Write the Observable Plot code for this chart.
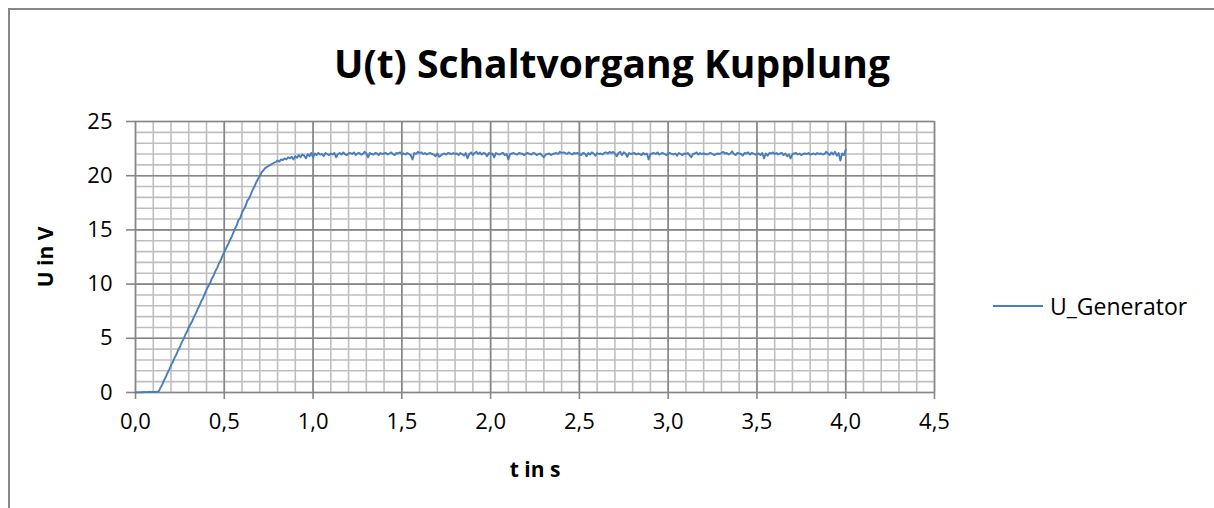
<!DOCTYPE html>
<html>
<head>
<meta charset="utf-8">
<script src="https://cdn.jsdelivr.net/npm/d3@7"></script>
<script src="https://cdn.jsdelivr.net/npm/@observablehq/plot@0.6"></script>
<style>
  body { margin: 0; background: #fff; }
  #wrap { position: relative; width: 1214px; height: 508px; overflow: hidden; font-family: "Open Sans", sans-serif; color: #000; }
  #frame { position: absolute; left: 8px; top: 8px; width: 1400px; height: 700px; border: 2px solid #878787; box-sizing: border-box; }
  #title { position: absolute; left: 0; width: 1224px; top: 38px; text-align: center; font-weight: bold; font-size: 39px; line-height: 50px; white-space: nowrap; }
  #legend { position: absolute; left: 993px; top: 290px; display: flex; align-items: center; font-size: 23px; white-space: nowrap; }
  #legend .sw { display: inline-block; width: 50px; height: 0; border-top: 2px solid #4a7ebb; margin-right: 7px; }
  #chart { position: absolute; left: 0; top: 0; }
</style>
</head>
<body>
<div id="wrap">
  <div id="frame"></div>
  <div id="chart"></div>
  <div id="title">U(t) Schaltvorgang Kupplung</div>
  <div id="legend"><span class="sw"></span><span>U_Generator</span></div>
</div>
<script>
// ---- data (sampled every 0.01 s) ----
const sampleStep = 0.01;
const seriesName = "U_Generator";
const titleText = "U(t) Schaltvorgang Kupplung";
const xLabel = "t in s";
const yLabel = "U in V";

// 0.00 s – 1.00 s
const voltageRise = [
  0.00, 0.02, 0.01, 0.03, 0.02, 0.04, 0.03, 0.05, 0.04, 0.05, 0.06, 0.05, 0.07, 0.08,
  0.40, 0.70, 1.10, 1.40, 1.80, 2.10, 2.50, 2.80, 3.20, 3.50,
  3.90, 4.20, 4.60, 4.90, 5.30, 5.60, 6.00, 6.30, 6.60, 7.00,
  7.30, 7.70, 8.00, 8.40, 8.70, 9.10, 9.50, 9.80, 10.10, 10.50,
  10.80, 11.20, 11.50, 11.90, 12.20, 12.60, 12.95, 13.30, 13.60, 14.00,
  14.30, 14.70, 15.10, 15.40, 15.90, 16.10, 16.60, 16.90, 17.20, 17.70,
  17.90, 18.30, 18.70, 19.00, 19.40, 19.70, 20.00, 20.30, 20.50, 20.70,
  20.80, 20.90, 21.00, 21.10, 21.20, 21.25, 21.40, 21.30, 21.50, 21.45,
  21.60, 21.50, 21.70, 21.60, 21.75, 21.50, 21.80, 21.65, 21.90, 21.70,
  21.95, 21.85, 21.60, 22.00, 21.80, 22.10, 21.70
];

// 1.01 s – 4.00 s
const voltagePlateau = [
  22.05, 21.90, 22.10, 21.95, 22.00, 21.80, 22.10, 22.00, 21.90, 22.05,
  21.95, 22.10, 21.70, 22.00, 22.10, 21.95, 22.15, 22.00, 21.90, 22.05,
  22.10, 22.00, 22.15, 21.90, 22.05, 22.10, 21.95, 22.00, 22.20, 22.05,
  21.70, 22.10, 22.00, 21.95, 22.10, 22.05, 21.90, 22.10, 22.00, 22.05,
  22.10, 21.95, 22.05, 22.15, 22.00, 21.90, 22.10, 22.05, 22.15, 22.00,
  22.05, 21.95, 22.10, 22.00, 21.90, 21.50, 22.10, 22.00, 22.20, 22.10,
  22.15, 22.00, 22.10, 21.95, 22.05, 22.10, 22.00, 21.95, 21.80, 22.05,
  21.75, 21.85, 22.00, 22.05, 21.95, 22.10, 22.05, 22.00, 22.10, 22.00,
  22.05, 21.90, 22.10, 22.00, 21.85, 22.10, 21.60, 22.00, 22.15, 21.90,
  22.10, 22.20, 22.00, 22.15, 21.95, 22.10, 22.05, 21.80, 22.10, 22.00,
  22.05, 21.70, 22.10, 22.00, 21.95, 22.05, 22.10, 21.90, 22.00, 21.50,
  22.00, 22.05, 22.10, 22.00, 21.95, 22.10, 22.05, 22.00, 21.90, 22.05,
  22.10, 22.00, 21.95, 22.10, 22.05, 21.90, 22.00, 22.05, 21.85, 21.70,
  21.95, 22.00, 22.05, 21.90, 22.00, 22.05, 22.10, 22.00, 22.20, 22.10,
  22.15, 22.10, 22.00, 22.15, 22.05, 21.95, 22.10, 22.05, 22.10, 22.00,
  21.90, 22.10, 22.05, 21.80, 22.10, 21.95, 22.15, 22.05, 21.85, 22.10,
  22.00, 22.05, 21.95, 22.10, 22.15, 22.05, 22.20, 22.10, 22.20, 22.05,
  21.80, 22.10, 22.20, 21.90, 22.15, 22.05, 21.75, 22.10, 22.00, 22.05,
  22.10, 21.95, 22.05, 22.00, 21.90, 22.10, 21.95, 22.05, 21.50, 22.00,
  22.05, 22.10, 22.00, 22.15, 21.95, 22.05, 22.10, 22.00, 21.90, 22.05,
  22.10, 22.00, 21.95, 22.05, 21.85, 22.10, 22.00, 21.90, 22.05, 22.00,
  22.10, 21.90, 21.70, 22.00, 22.05, 22.15, 21.95, 22.10, 22.00, 22.05,
  22.00, 21.95, 22.05, 22.10, 22.00, 21.90, 22.00, 22.05, 22.00, 22.10,
  22.20, 22.05, 22.10, 21.95, 22.05, 22.25, 22.00, 21.90, 22.10, 22.05,
  22.00, 21.85, 22.10, 22.05, 22.15, 21.95, 22.10, 22.05, 21.95, 22.00,
  22.05, 21.90, 22.10, 21.60, 22.05, 21.85, 22.10, 22.05, 22.15, 22.00,
  22.10, 21.95, 22.05, 22.10, 21.90, 22.05, 21.80, 21.95, 21.60, 22.00,
  22.05, 22.10, 21.95, 22.05, 21.90, 22.00, 22.05, 22.00, 22.10, 21.95,
  22.00, 22.05, 21.95, 22.10, 22.00, 22.05, 21.95, 22.00, 22.20, 22.05,
  21.90, 22.15, 21.95, 22.20, 21.85, 22.10, 21.40, 22.05, 21.90, 22.40
];

const xMajorTicks = [0, 0.5, 1, 1.5, 2, 2.5, 3, 3.5, 4, 4.5];
const yMajorTicks = [0, 5, 10, 15, 20, 25];
const xMinorStep = 0.1;
const yMinorStep = 1;

// ---- build table ----
const voltage = voltageRise.concat(voltagePlateau);
const data = voltage.map((u, i) => ({ t: +(i * sampleStep).toFixed(2), u }));
const xMinorTicks = d3.range(0, 4.5 + 1e-9, xMinorStep).map(v => +v.toFixed(2));
const yMinorTicks = d3.range(0, 25 + 1e-9, yMinorStep);
const fmtComma = d => d.toFixed(1).replace(".", ",");

const minorColor = "#bfbfbf";
const majorColor = "#878787";

const chart = Plot.plot({
  width: 1214,
  height: 508,
  marginLeft: 135,
  marginRight: 280,
  marginTop: 121,
  marginBottom: 116,
  style: { background: "transparent", fontFamily: "'Open Sans', sans-serif", fontSize: "22px", color: "#000" },
  x: { domain: [0, 4.5] },
  y: { domain: [0, 25] },
  marks: [
    Plot.gridX(xMinorTicks, { stroke: minorColor, strokeOpacity: 1, strokeWidth: 1.6 }),
    Plot.gridY(yMinorTicks, { stroke: minorColor, strokeOpacity: 1, strokeWidth: 1.6 }),
    Plot.gridX(xMajorTicks, { stroke: majorColor, strokeOpacity: 1, strokeWidth: 1.6 }),
    Plot.gridY(yMajorTicks, { stroke: majorColor, strokeOpacity: 1, strokeWidth: 1.6 }),
    Plot.axisX(xMajorTicks, { tickFormat: fmtComma, tickSize: 7, tickPadding: 14, stroke: majorColor, strokeWidth: 1.6, label: xLabel, labelAnchor: "center", labelOffset: 84, labelArrow: "none" }),
    Plot.axisY(yMajorTicks, { tickFormat: d => String(d), tickSize: 9, tickPadding: 14, stroke: majorColor, strokeWidth: 1.6, label: yLabel, labelAnchor: "center", labelOffset: 97, labelArrow: "none" }),
    Plot.line(data, { x: "t", y: "u", stroke: "#4a7ebb", strokeWidth: 1.9 })
  ]
});

// bold axis titles
chart.querySelectorAll("g[aria-label='x-axis label'] text, g[aria-label='y-axis label'] text").forEach(t => {
  t.setAttribute("font-weight", "bold");
  t.setAttribute("font-size", "21");
});
document.getElementById("chart").appendChild(chart);
</script>
</body>
</html>
